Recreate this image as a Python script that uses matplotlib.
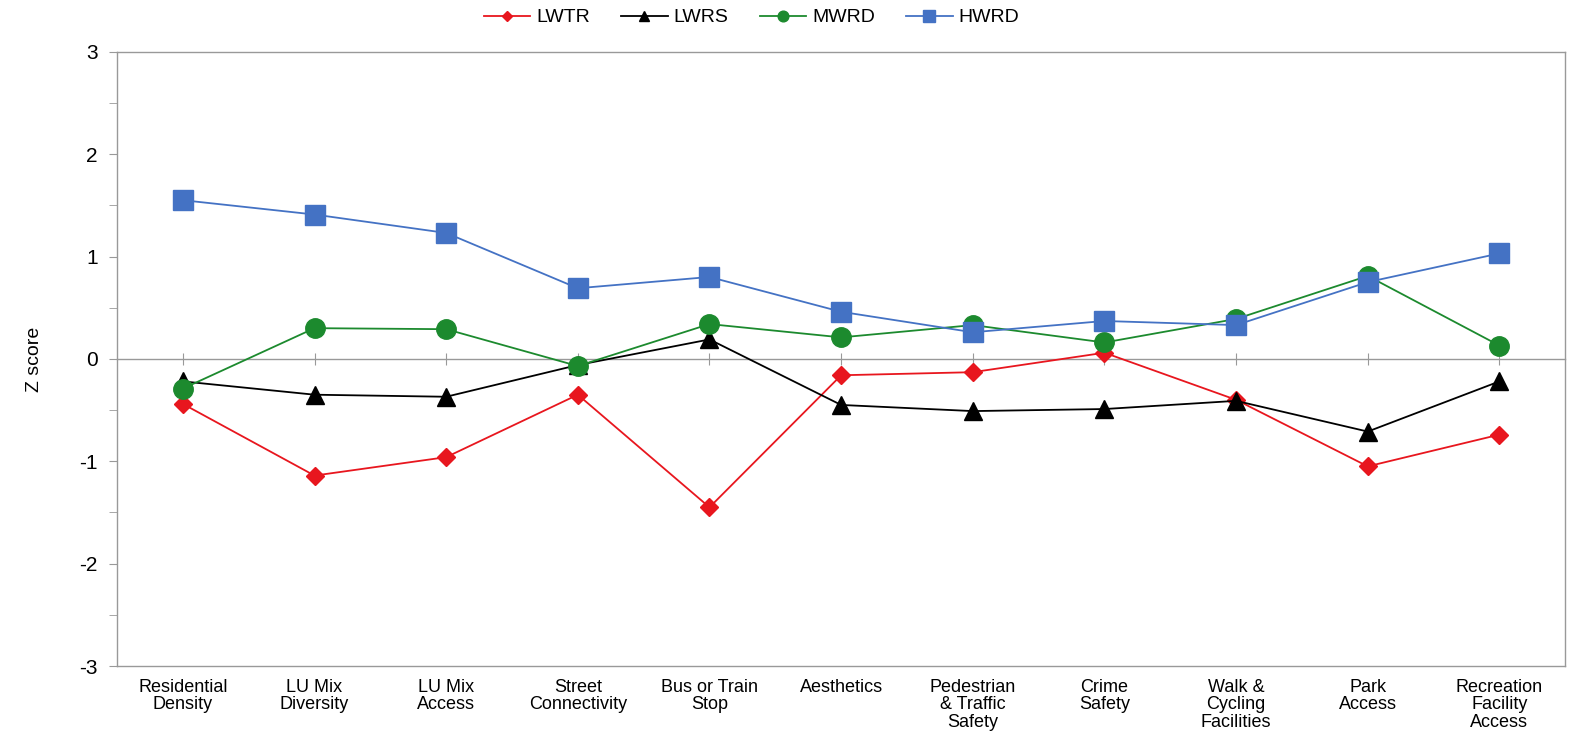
import numpy as np
import matplotlib.pyplot as plt

plt.rcParams['font.family'] = ['Liberation Sans', 'DejaVu Sans']

# categories and Z scores
categories = ["Residential\nDensity", "LU Mix\nDiversity", "LU Mix\nAccess", "Street\nConnectivity",
              "Bus or Train\nStop", "Aesthetics", "Pedestrian\n& Traffic\nSafety", "Crime\nSafety",
              "Walk &\nCycling\nFacilities", "Park\nAccess", "Recreation\nFacility\nAccess"]

lwtr = [-0.44, -1.14, -0.96, -0.35, -1.45, -0.16, -0.13, 0.06, -0.40, -1.05, -0.74]
lwrs = [-0.22, -0.35, -0.37, -0.06, 0.19, -0.45, -0.51, -0.49, -0.41, -0.71, -0.22]
mwrd = [-0.29, 0.30, 0.29, -0.07, 0.34, 0.21, 0.33, 0.16, 0.39, 0.81, 0.13]
hwrd = [1.55, 1.41, 1.23, 0.69, 0.80, 0.46, 0.26, 0.37, 0.33, 0.75, 1.03]

fig = plt.figure(figsize=(15.69, 7.33), dpi=100)
ax = fig.add_axes([0.0746, 0.0914, 0.923, 0.838])

x = np.arange(len(categories))
ax.plot(x, lwtr, color="#e8161e", lw=1.3, marker="D", ms=9, label="LWTR", zorder=3)
ax.plot(x, lwrs, color="black", lw=1.3, marker="^", ms=13, label="LWRS", zorder=4)
ax.plot(x, mwrd, color="#1c8a2e", lw=1.3, marker="o", ms=14, label="MWRD", zorder=5)
ax.plot(x, hwrd, color="#4472c4", lw=1.3, marker="s", ms=15, label="HWRD", zorder=6)

ax.set_xlim(-0.5, len(categories) - 0.5)
ax.set_ylim(-3, 3)
ax.set_yticks([-3, -2, -1, 0, 1, 2, 3])
ax.set_yticks(np.arange(-2.5, 3, 1.0), minor=True)
ax.set_yticklabels(["-3", "-2", "-1", "0", "1", "2", "3"], fontsize=15)
ax.tick_params(axis="y", which="both", direction="out", length=6, color="#999999", pad=8)
ax.set_ylabel("Z score", fontsize=14, labelpad=26)

ax.set_xticks(x)
ax.set_xticklabels(categories, fontsize=13, linespacing=1.05, va="top")
ax.tick_params(axis="x", length=0, pad=9)

for s in ax.spines.values():
    s.set_color("#999999")
    s.set_linewidth(1.0)

# horizontal axis crossing at zero with category ticks
zx = ax.secondary_xaxis(0.5)
zx.set_xticks(x)
zx.set_xticklabels([])
zx.tick_params(direction="inout", length=8, color="#999999")
for s in zx.spines.values():
    s.set_color("#999999")
    s.set_linewidth(1.0)

leg = fig.legend(loc="upper center", bbox_to_anchor=(0.479, 1.012), ncol=4, frameon=False,
                 fontsize=14, markerscale=0.55, handlelength=2.4, handletextpad=0.3,
                 columnspacing=1.6)

fig.savefig("out.png", dpi=100)
